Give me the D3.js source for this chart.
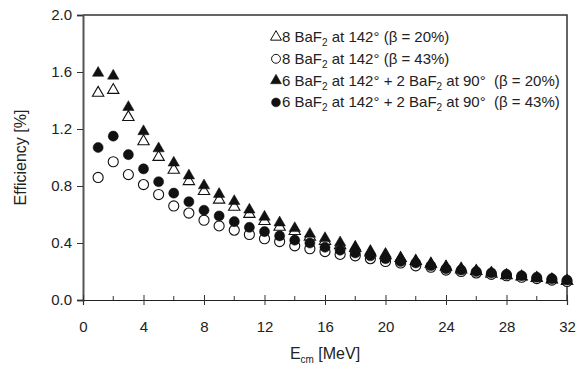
<!DOCTYPE html>
<html>
<head>
<meta charset="utf-8">
<script src="https://cdn.jsdelivr.net/npm/d3@7"></script>
<style>
  body { margin: 0; background: #fff; }
  text { font-family: "Liberation Sans", Arial, sans-serif; fill: #222; white-space: pre; }
</style>
</head>
<body>
<div id="chart"></div>
<script>
// energies, MeV
const energies = d3.range(1, 33);

// 8 BaF2 at 142 deg, beta = 20% (open triangles)
const eight20 = [1.46, 1.48, 1.29, 1.12, 1.01, 0.92, 0.84, 0.77, 0.71, 0.66, 0.61, 0.56,
  0.52, 0.49, 0.45, 0.42, 0.39, 0.37, 0.34, 0.32, 0.30, 0.28, 0.26, 0.24,
  0.22, 0.21, 0.19, 0.18, 0.17, 0.16, 0.15, 0.14];
// 8 BaF2 at 142 deg, beta = 43% (open circles)
const eight43 = [0.86, 0.97, 0.88, 0.81, 0.74, 0.66, 0.61, 0.56, 0.52, 0.49, 0.46, 0.43,
  0.41, 0.38, 0.36, 0.34, 0.32, 0.31, 0.29, 0.27, 0.26, 0.24, 0.23, 0.21,
  0.20, 0.19, 0.18, 0.17, 0.16, 0.15, 0.14, 0.13];
// 6 + 2 BaF2, beta = 20% (filled triangles)
const six20 = [1.60, 1.58, 1.36, 1.19, 1.07, 0.97, 0.88, 0.81, 0.75, 0.70, 0.64, 0.59,
  0.55, 0.51, 0.47, 0.44, 0.41, 0.38, 0.35, 0.33, 0.30, 0.28, 0.26, 0.24,
  0.23, 0.21, 0.20, 0.18, 0.17, 0.16, 0.15, 0.14];
// 6 + 2 BaF2, beta = 43% (filled circles)
const six43 = [1.07, 1.15, 1.02, 0.92, 0.83, 0.75, 0.69, 0.63, 0.59, 0.55, 0.51, 0.48,
  0.45, 0.42, 0.40, 0.37, 0.35, 0.33, 0.31, 0.29, 0.27, 0.26, 0.24, 0.22,
  0.21, 0.20, 0.19, 0.18, 0.17, 0.16, 0.15, 0.14];

const xTicks = d3.range(0, 33, 4);
const xMinor = d3.range(2, 32, 4);
const yTicks = [0, 0.4, 0.8, 1.2, 1.6, 2.0];

const width = 588, height = 366;
const margin = {top: 15, right: 21, bottom: 66, left: 83};

const svg = d3.select('#chart').append('svg')
  .attr('width', width)
  .attr('height', height);

const x = d3.scaleLinear().domain([0, 32]).range([margin.left, width - margin.right]);
const y = d3.scaleLinear().domain([0, 2]).range([height - margin.bottom, margin.top]);

// frame (top + right)
svg.append('path')
  .attr('d', `M${x(0)},${y(2)}H${x(32)}V${y(0)}`)
  .attr('fill', 'none')
  .attr('stroke', '#333')
  .attr('stroke-width', 1.5);

// y axis
const yAxis = svg.append('g')
  .attr('transform', `translate(${x(0)},0)`)
  .call(d3.axisLeft(y).tickValues(yTicks).tickFormat(d3.format('.1f')).tickSize(6).tickPadding(5));
yAxis.select('.domain').attr('stroke', '#555').attr('stroke-width', 2);
yAxis.selectAll('.tick line').attr('stroke', '#333');
yAxis.selectAll('.tick text').style('font-size', '15px').attr('fill', '#333');

// x axis
const xAxis = svg.append('g')
  .attr('transform', `translate(0,${y(0)})`)
  .call(d3.axisBottom(x).tickValues(xTicks).tickSize(5).tickPadding(16));
xAxis.select('.domain').attr('stroke', '#222').attr('stroke-width', 1.2);
xAxis.selectAll('.tick line').attr('y1', -5).attr('stroke', '#333');
xAxis.selectAll('.tick text').style('font-size', '15px').attr('fill', '#333');
xAxis.selectAll('.minor').data(xMinor).enter().append('line')
  .attr('x1', d => x(d)).attr('x2', d => x(d))
  .attr('y1', 0).attr('y2', -4)
  .attr('stroke', '#333');

// axis titles
svg.append('text')
  .attr('transform', `translate(26,${(y(0) + y(2)) / 2}) rotate(-90)`)
  .attr('text-anchor', 'middle')
  .style('font-size', '16px')
  .text('Efficiency [%]');

const xt = svg.append('text')
  .attr('x', (x(0) + x(32)) / 2)
  .attr('y', 359)
  .attr('text-anchor', 'middle')
  .style('font-size', '16px');
xt.append('tspan').text('E');
xt.append('tspan').attr('dy', 4).style('font-size', '10px').text('cm');
xt.append('tspan').attr('dy', -4).text(' [MeV]');

// series
const series = [
  {values: eight20, shape: d3.symbolTriangle, filled: false, label: ['8 BaF', '2', ' at 142° (β = 20%)']},
  {values: eight43, shape: d3.symbolCircle, filled: false, label: ['8 BaF', '2', ' at 142° (β = 43%)']},
  {values: six20, shape: d3.symbolTriangle, filled: true, label: ['6 BaF', '2', ' at 142° + 2 BaF', '2', ' at 90°  (β = 20%)']},
  {values: six43, shape: d3.symbolCircle, filled: true, label: ['6 BaF', '2', ' at 142° + 2 BaF', '2', ' at 90°  (β = 43%)']},
];

function symbolSize(s) {
  return s.shape === d3.symbolTriangle ? 56 : 80;
}

series.forEach(s => {
  svg.append('g').selectAll('path')
    .data(s.values)
    .enter().append('path')
    .attr('transform', (d, i) => `translate(${x(energies[i])},${y(d) + (s.shape === d3.symbolTriangle ? 1 : 0)})`)
    .attr('d', d3.symbol().type(s.shape).size(symbolSize(s)))
    .attr('fill', s.filled ? '#111' : '#fff')
    .attr('stroke', '#111')
    .attr('stroke-width', s.filled ? 0.5 : 1.1);
});

// legend
const legend = svg.append('g').attr('transform', 'translate(276,42)');
series.forEach((s, i) => {
  const row = legend.append('g').attr('transform', `translate(0,${i * 21.8})`);
  row.append('path')
    .attr('transform', `translate(0,-5)`)
    .attr('d', d3.symbol().type(s.shape).size(s.shape === d3.symbolTriangle ? 52 : 62))
    .attr('fill', s.filled ? '#111' : '#fff')
    .attr('stroke', '#111')
    .attr('stroke-width', s.filled ? 0.5 : 1);
  const t = row.append('text').attr('x', 6).style('font-size', '15px');
  s.label.forEach((part, j) => {
    if (j % 2 === 1) {
      t.append('tspan').attr('dy', 4).style('font-size', '10px').text(part);
    } else {
      t.append('tspan').attr('dy', j === 0 ? 0 : -4).text(part);
    }
  });
});
</script>
</body>
</html>
